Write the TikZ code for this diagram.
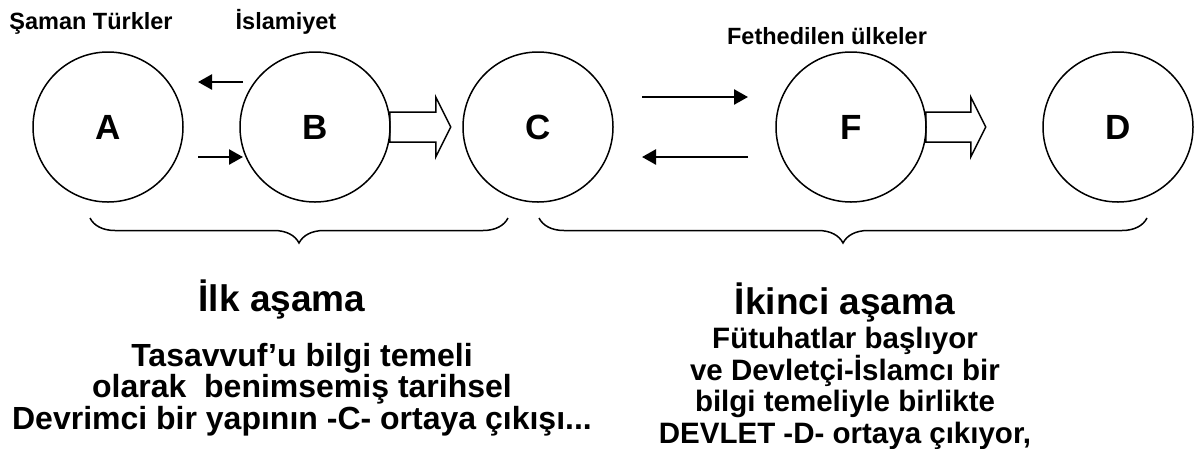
\documentclass[tikz,border=0pt]{standalone}
\usepackage{fontspec}
\setmainfont{Liberation Sans}
\newcommand\mytightlines{\lineskiplimit=-100pt\relax\lineskip=0pt\relax}
\usetikzlibrary{arrows.meta,decorations.pathreplacing,calc}
\begin{document}
\begin{tikzpicture}[x=1pt,y=-1pt,
  circ/.style={circle,draw,line width=1.5pt,minimum size=150pt,inner sep=0pt,font=\bfseries\fontsize{35}{40}\selectfont},
  thinarrow/.style={line width=2.5pt,-{Triangle[length=14pt,width=15pt]}},
  blockarrow/.style={draw,line width=1.5pt,line join=miter},
  toplbl/.style={font=\bfseries\fontsize{23.5}{27}\selectfont,anchor=base,inner sep=0pt},
  stage/.style={font=\bfseries\fontsize{37}{42}\selectfont,anchor=base,inner sep=0pt},
  bodyA/.style={font=\bfseries\fontsize{32}{31.5}\selectfont\mytightlines,anchor=base,inner sep=0pt,align=center},
  bodyB/.style={font=\bfseries\fontsize{29.5}{31.5}\selectfont\mytightlines,anchor=base,inner sep=0pt,align=center},
  bracestyle/.style={line width=1.5pt,decorate,decoration={brace,mirror,amplitude=25pt}}]
\useasboundingbox (0,0) rectangle (1199,448);
\node[circ] (A) at (108,127) {A};
\node[circ] (B) at (315,127) {B};
\node[circ] (C) at (538,127) {C};
\node[circ] (F) at (851,127) {F};
\node[circ] (D) at (1118,127) {D};
% thin arrows
\coordinate (ab1s) at ($(B.center)+(-72,-45)$);
\coordinate (ab1e) at ($(A.center)+(90,-45)$);
\coordinate (ab2s) at ($(A.center)+(90,30)$);
\coordinate (ab2e) at ($(B.center)+(-72,30)$);
\draw[thinarrow] (ab1s) -- (ab1e);
\draw[thinarrow] (ab2s) -- (ab2e);
\coordinate (cf1s) at ($(C.center)+(104,-30)$);
\coordinate (cf1e) at ($(F.center)+(-103,-30)$);
\coordinate (cf2s) at ($(F.center)+(-103,30)$);
\coordinate (cf2e) at ($(C.center)+(104,30)$);
\draw[thinarrow] (cf1s) -- (cf1e);
\draw[thinarrow] (cf2s) -- (cf2e);
% block arrows
\draw[blockarrow] ($(B.east)+(-1,-15)$) -- ++(46,0) -- ++(0,-15) -- ++(15,30) -- ++(-15,30) -- ++(0,-15) -- ++(-46,0) -- cycle;
\draw[blockarrow] ($(F.east)+(-1,-15)$) -- ++(45,0) -- ++(0,-15) -- ++(15,30) -- ++(-15,30) -- ++(0,-15) -- ++(-45,0) -- cycle;
% braces
\coordinate (br1l) at (90,218);
\coordinate (br1r) at (508,218);
\coordinate (br2l) at (539,218);
\coordinate (br2r) at (1147,218);
\draw[bracestyle] (br1l) -- (br1r);
\draw[bracestyle] (br2l) -- (br2r);
% labels
\node[toplbl] (l1) at (91,29) {Şaman Türkler};
\node[toplbl] (l2) at (286,29) {İslamiyet};
\node[toplbl] (l3) at (827,44) {Fethedilen ülkeler};
\node[stage] (s1) at (282,311) {İlk aşama};
\node[stage] (s2) at (845,314) {İkinci aşama};
\node[bodyA] (t1) at (302,429) {Tasavvuf’u bilgi temeli\\olarak\ \ benimsemiş tarihsel\\Devrimci bir yapının -C- ortaya çıkışı...};
\node[bodyB] (t2) at (845,443) {Fütuhatlar başlıyor\\ve Devletçi-İslamcı bir\\bilgi temeliyle birlikte\\DEVLET -D- ortaya çıkıyor,};
\end{tikzpicture}
\end{document}
